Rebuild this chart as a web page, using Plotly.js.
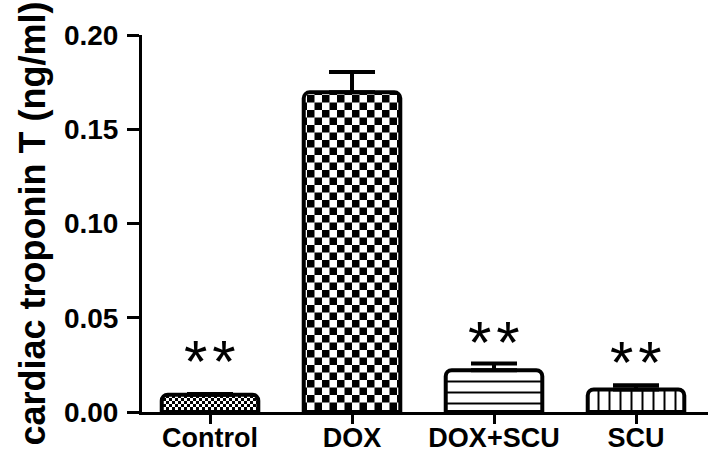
<!DOCTYPE html>
<html>
<head>
<meta charset="utf-8">
<script src="https://cdn.plot.ly/plotly-3.0.1.min.js"></script>
<style>html,body{margin:0;padding:0;background:#fff;}#chart{width:708px;height:455px;}</style>
</head>
<body>
<div id="chart"></div>
<script>
// ---- data ----
var categories = ['Control', 'DOX', 'DOX+SCU', 'SCU'];
var means = [0.0092, 0.1696, 0.0222, 0.0120];
var errors = [0.0003, 0.0108, 0.0035, 0.0022];
var significance = ['*\u200A*', '', '*\u200A*', '*\u200A*'];
var yTicks = [0, 0.05, 0.10, 0.15, 0.20];
var yTickLabels = ['0.00', '0.05', '0.10', '0.15', '0.20'];

// ---- styles ----
var FONT = 'Liberation Sans, Arial, Helvetica, sans-serif';
var checkerSize = [3, 7.5, 0, 0]; // checkerboard square size per bar (0 = native pattern)
var starShift = [-3, 0, -14, -13];  // px offset of the significance marks

var data = [{
  type: 'bar',
  x: categories,
  y: means,
  width: 0.68,
  marker: {
    color: 'white',
    cornerradius: 6,
    line: {color: 'black', width: 4},
    pattern: {
      shape: ['+', '+', '-', '|'],
      size: [6, 15, 11, 11],
      solidity: [0.5, 0.5, 0.18, 0.18],
      fgcolor: 'black',
      bgcolor: 'white',
      fillmode: 'replace'
    }
  },
  error_y: {
    type: 'data',
    array: errors,
    arrayminus: errors.map(function(){return 0;}),
    symmetric: false,
    color: 'black',
    thickness: 4,
    width: 23
  },
  hoverinfo: 'none'
}];

var annotations = [];
categories.forEach(function(c, i){
  if (!significance[i]) return;
  annotations.push({
    x: c, y: means[i] + errors[i], xref: 'x', yref: 'y',
    text: significance[i], showarrow: false,
    yanchor: 'bottom', yshift: starShift[i],
    font: {family: FONT, size: 60, color: 'black'}
  });
});

var layout = {
  width: 708, height: 455,
  margin: {l: 142, r: 0, t: 35, b: 43, pad: 0},
  paper_bgcolor: 'white', plot_bgcolor: 'white',
  showlegend: false,
  xaxis: {
    type: 'category',
    range: [-0.479, 3.507],
    showline: true, linecolor: 'black', linewidth: 3,
    ticks: 'outside', ticklen: 9, tickwidth: 3, tickcolor: 'black',
    ticklabelstandoff: -9,
    showgrid: false, zeroline: false,
    tickfont: {family: FONT, size: 27, color: 'black', weight: 'bold'},
    fixedrange: true
  },
  yaxis: {
    range: [0, 0.2],
    tickvals: yTicks, ticktext: yTickLabels,
    showline: true, linecolor: 'black', linewidth: 3,
    ticks: 'outside', ticklen: 12, tickwidth: 3, tickcolor: 'black',
    ticklabelstandoff: 3,
    showgrid: false, zeroline: false,
    tickfont: {family: FONT, size: 28, color: 'black', weight: 'bold'},
    title: {text: 'cardiac troponin T (ng/ml)', standoff: 8,
            font: {family: FONT, size: 36, color: 'black', weight: 'bold'}},
    automargin: false,
    fixedrange: true
  },
  annotations: annotations
};

var gd = document.getElementById('chart');
Plotly.newPlot(gd, data, layout, {staticPlot: true, displayModeBar: false}).then(function(){
  var NS = 'http://www.w3.org/2000/svg';
  var paths = gd.querySelectorAll('.barlayer .point path');
  paths.forEach(function(p, i){
    var s = checkerSize[i];
    if (!s) return;
    var fill = p.style.fill || p.getAttribute('fill') || '';
    var m = /#([^'")]+)/.exec(fill);
    if (!m) return;
    var pat = document.getElementById(m[1]);
    if (!pat) return;
    while (pat.firstChild) pat.removeChild(pat.firstChild);
    pat.setAttribute('width', 2 * s);
    pat.setAttribute('height', 2 * s);
    pat.setAttribute('patternUnits', 'userSpaceOnUse');
    function rect(x, y, w, h, c){
      var r = document.createElementNS(NS, 'rect');
      r.setAttribute('x', x); r.setAttribute('y', y);
      r.setAttribute('width', w); r.setAttribute('height', h);
      r.setAttribute('fill', c);
      pat.appendChild(r);
    }
    rect(0, 0, 2 * s, 2 * s, 'white');
    rect(0, 0, s, s, 'black');
    rect(s, s, s, s, 'black');
  });
});
</script>
</body>
</html>
